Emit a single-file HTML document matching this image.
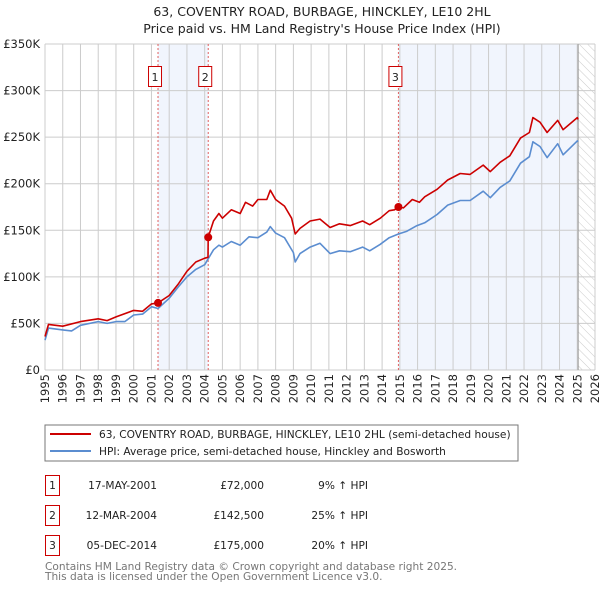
<!DOCTYPE html>
<html><head><meta charset="utf-8"><style>
body{margin:0;background:#fff;}
svg{font-family:"DejaVu Sans","Liberation Sans",sans-serif;}
</style></head><body>
<svg id="chart" width="600" height="590" viewBox="0 0 600 590" xmlns="http://www.w3.org/2000/svg">
<text x="322" y="16" text-anchor="middle" font-size="12.5" fill="#222">63, COVENTRY ROAD, BURBAGE, HINCKLEY, LE10 2HL</text>
<text x="322" y="33" text-anchor="middle" font-size="12.5" fill="#222">Price paid vs. HM Land Registry's House Price Index (HPI)</text>
<g id="plot"></g>
<rect x="45" y="425" width="473" height="36" fill="#fff" stroke="#777"/>
<line x1="50" y1="434" x2="91" y2="434" stroke="#cc0000" stroke-width="2"/>
<text x="99" y="438" font-size="10.6" fill="#222">63, COVENTRY ROAD, BURBAGE, HINCKLEY, LE10 2HL (semi-detached house)</text>
<line x1="50" y1="451" x2="91" y2="451" stroke="#5b8dd0" stroke-width="2"/>
<text x="99" y="455" font-size="10.6" fill="#222">HPI: Average price, semi-detached house, Hinckley and Bosworth</text>
<g font-size="10.6" fill="#222">
<rect x="45.5" y="475.5" width="14" height="20" fill="#fff" stroke="#cc0000"/>
<text x="52.5" y="489" text-anchor="middle">1</text>
<text x="157" y="489" text-anchor="end">17-MAY-2001</text>
<text x="264" y="489" text-anchor="end">£72,000</text>
<text x="368" y="489" text-anchor="end">9% ↑ HPI</text>
<rect x="45.5" y="505.5" width="14" height="20" fill="#fff" stroke="#cc0000"/>
<text x="52.5" y="519" text-anchor="middle">2</text>
<text x="157" y="519" text-anchor="end">12-MAR-2004</text>
<text x="264" y="519" text-anchor="end">£142,500</text>
<text x="368" y="519" text-anchor="end">25% ↑ HPI</text>
<rect x="45.5" y="535.5" width="14" height="20" fill="#fff" stroke="#cc0000"/>
<text x="52.5" y="549" text-anchor="middle">3</text>
<text x="157" y="549" text-anchor="end">05-DEC-2014</text>
<text x="264" y="549" text-anchor="end">£175,000</text>
<text x="368" y="549" text-anchor="end">20% ↑ HPI</text>
</g>
<text x="45" y="570" font-size="10.6" fill="#777">Contains HM Land Registry data © Crown copyright and database right 2025.</text>
<text x="45" y="580" font-size="10.6" fill="#777">This data is licensed under the Open Government Licence v3.0.</text>
</svg>
<script>
const yearTicks=[1995,1996,1997,1998,1999,2000,2001,2002,2003,2004,2005,2006,2007,2008,2009,2010,2011,2012,2013,2014,2015,2016,2017,2018,2019,2020,2021,2022,2023,2024,2025,2026];
const valueTicks=[0,50000,100000,150000,200000,250000,300000,350000];
const valueTickLabels=["£0","£50K","£100K","£150K","£200K","£250K","£300K","£350K"];
const hpiYears=[1995.0,1995.2,1996,1996.5,1997,1998,1998.5,1999,1999.5,2000,2000.5,2001,2001.37,2002,2002.5,2003,2003.5,2004,2004.5,2004.8,2005,2005.5,2006,2006.5,2007,2007.5,2007.7,2008,2008.5,2009,2009.1,2009.37,2009.94,2010.5,2011.07,2011.6,2012.2,2012.9,2013.3,2013.9,2014.4,2014.92,2015.4,2015.97,2016.4,2017.1,2017.7,2018.4,2018.96,2019.7,2020.1,2020.65,2021.2,2021.8,2022.3,2022.5,2022.9,2023.3,2023.9,2024.2,2025.0,2025.05];
const hpiValues=[32000,45000,43000,42000,48000,52000,50000,52000,52000,59000,60000,68000,66000,77000,89000,100000,108000,113000,129000,134000,132000,138000,134000,143000,142000,148000,154000,147000,142000,126000,116000,125000,132000,136000,125000,128000,127000,132000,128000,135000,142000,146000,149000,155000,158000,167000,177000,182000,182000,192000,185000,196000,203000,222000,229000,245000,240000,228000,243000,231000,246000,245000];
const priceYears=[1995.0,1995.2,1996,1997,1998,1998.5,1999,2000,2000.5,2001,2001.37,2002,2002.5,2003,2003.5,2004,2004.19,2004.2,2004.5,2004.8,2005,2005.5,2006,2006.3,2006.7,2007,2007.5,2007.7,2008,2008.5,2008.9,2009.1,2009.37,2009.94,2010.5,2011.07,2011.6,2012.2,2012.9,2013.3,2013.9,2014.4,2014.7,2014.92,2015.2,2015.7,2016.1,2016.4,2017.1,2017.7,2018.4,2018.96,2019.7,2020.1,2020.65,2021.2,2021.8,2022.3,2022.5,2022.9,2023.3,2023.9,2024.2,2025.0,2025.05];
const priceValues=[36000,49000,47000,52000,55000,53000,57000,64000,63000,71000,72000,80000,92000,106000,116000,120000,121000,142500,160000,168000,163000,172000,168000,180000,176000,183000,183000,193000,183000,176000,163000,146000,152000,160000,162000,153000,157000,155000,160000,156000,163000,171000,172000,175000,174000,183000,180000,186000,194000,204000,211000,210000,220000,213000,223000,230000,249000,255000,271000,266000,255000,268000,258000,271000,269000];
const saleYears=[2001.37,2004.2,2014.92];
const salePrices=[72000,142500,175000];
const saleLabels=["1","2","3"];

const NS="http://www.w3.org/2000/svg";
const X0=45,X1=595,Y0=370,Y1=44;
const xScale=y=>X0+(y-1995)/(2026-1995)*(X1-X0);
const yScale=v=>Y0-v/350000*(Y0-Y1);
const plot=document.getElementById('plot');
function mk(tag,attrs){const e=document.createElementNS(NS,tag);for(const k in attrs)e.setAttribute(k,attrs[k]);plot.appendChild(e);return e;}

let r=mk('rect',{x:xScale(saleYears[0]),y:Y1,width:xScale(saleYears[1])-xScale(saleYears[0]),height:Y0-Y1,fill:'#eef3fc',opacity:0.8});


r=mk('rect',{x:xScale(saleYears[2]),y:Y1,width:xScale(2025.05)-xScale(saleYears[2]),height:Y0-Y1,fill:'#eef3fc',opacity:0.8});


const defs=document.createElementNS(NS,'defs');
defs.innerHTML='<pattern id="hatch" width="6" height="6" patternUnits="userSpaceOnUse" patternTransform="rotate(-45)"><line x1="0" y1="0" x2="0" y2="6" stroke="#ccc" stroke-width="1"/></pattern>';
plot.appendChild(defs);
r=mk('rect',{x:xScale(2025.05),y:Y1,width:X1-xScale(2025.05),height:Y0-Y1,fill:'url(#hatch)'});



yearTicks.forEach(t=>{const x=xScale(t);
 const l=mk('line',{x1:x,y1:Y1,x2:x,y2:Y0,stroke:'#ccc','stroke-width':1});
 
 
 const tx=mk('text',{x:0,y:0,'font-size':11.5,fill:'#222','text-anchor':'end',transform:`translate(${x+4},${Y0+4}) rotate(-90)`});
 tx.textContent=t;
 
 
});
valueTicks.forEach((v,i)=>{const y=yScale(v);
 const l=mk('line',{x1:X0,y1:y,x2:X1,y2:y,stroke:'#ccc','stroke-width':1});
 
 
 const tx=mk('text',{x:40,y:y+4,'font-size':11.5,fill:'#222','text-anchor':'end'});
 tx.textContent=valueTickLabels[i];
 
 
});
let el=mk('line',{x1:xScale(2025.05),y1:Y1,x2:xScale(2025.05),y2:Y0,stroke:'#999','stroke-width':1});


saleYears.forEach((s,i)=>{const x=xScale(s);
 const l=mk('line',{x1:x,y1:Y1,x2:x,y2:Y0,stroke:'#e06060','stroke-width':1,'stroke-dasharray':'2,2'});
 
 
 const b=mk('rect',{x:x-9.5,y:66.5,width:13,height:20,fill:'#fff',stroke:'#cc0000'});
 
 
 const t=mk('text',{x:x-3,y:81,'font-size':11,fill:'#222','text-anchor':'middle'});
 t.textContent=saleLabels[i];
 
 
});
function pts(xs,vs){return xs.map((y,i)=>xScale(y).toFixed(1)+','+yScale(vs[i]).toFixed(1)).join(' ');}
el=mk('polyline',{points:pts(hpiYears,hpiValues),fill:'none',stroke:'#5b8dd0','stroke-width':1.6,'stroke-linejoin':'round'});


el=mk('polyline',{points:pts(priceYears,priceValues),fill:'none',stroke:'#cc0000','stroke-width':1.6,'stroke-linejoin':'round'});


saleYears.forEach((s,i)=>{
 const c=mk('circle',{cx:xScale(s),cy:yScale(salePrices[i]),r:4,fill:'#cc0000'});
 
 
});
</script>
</body></html>
